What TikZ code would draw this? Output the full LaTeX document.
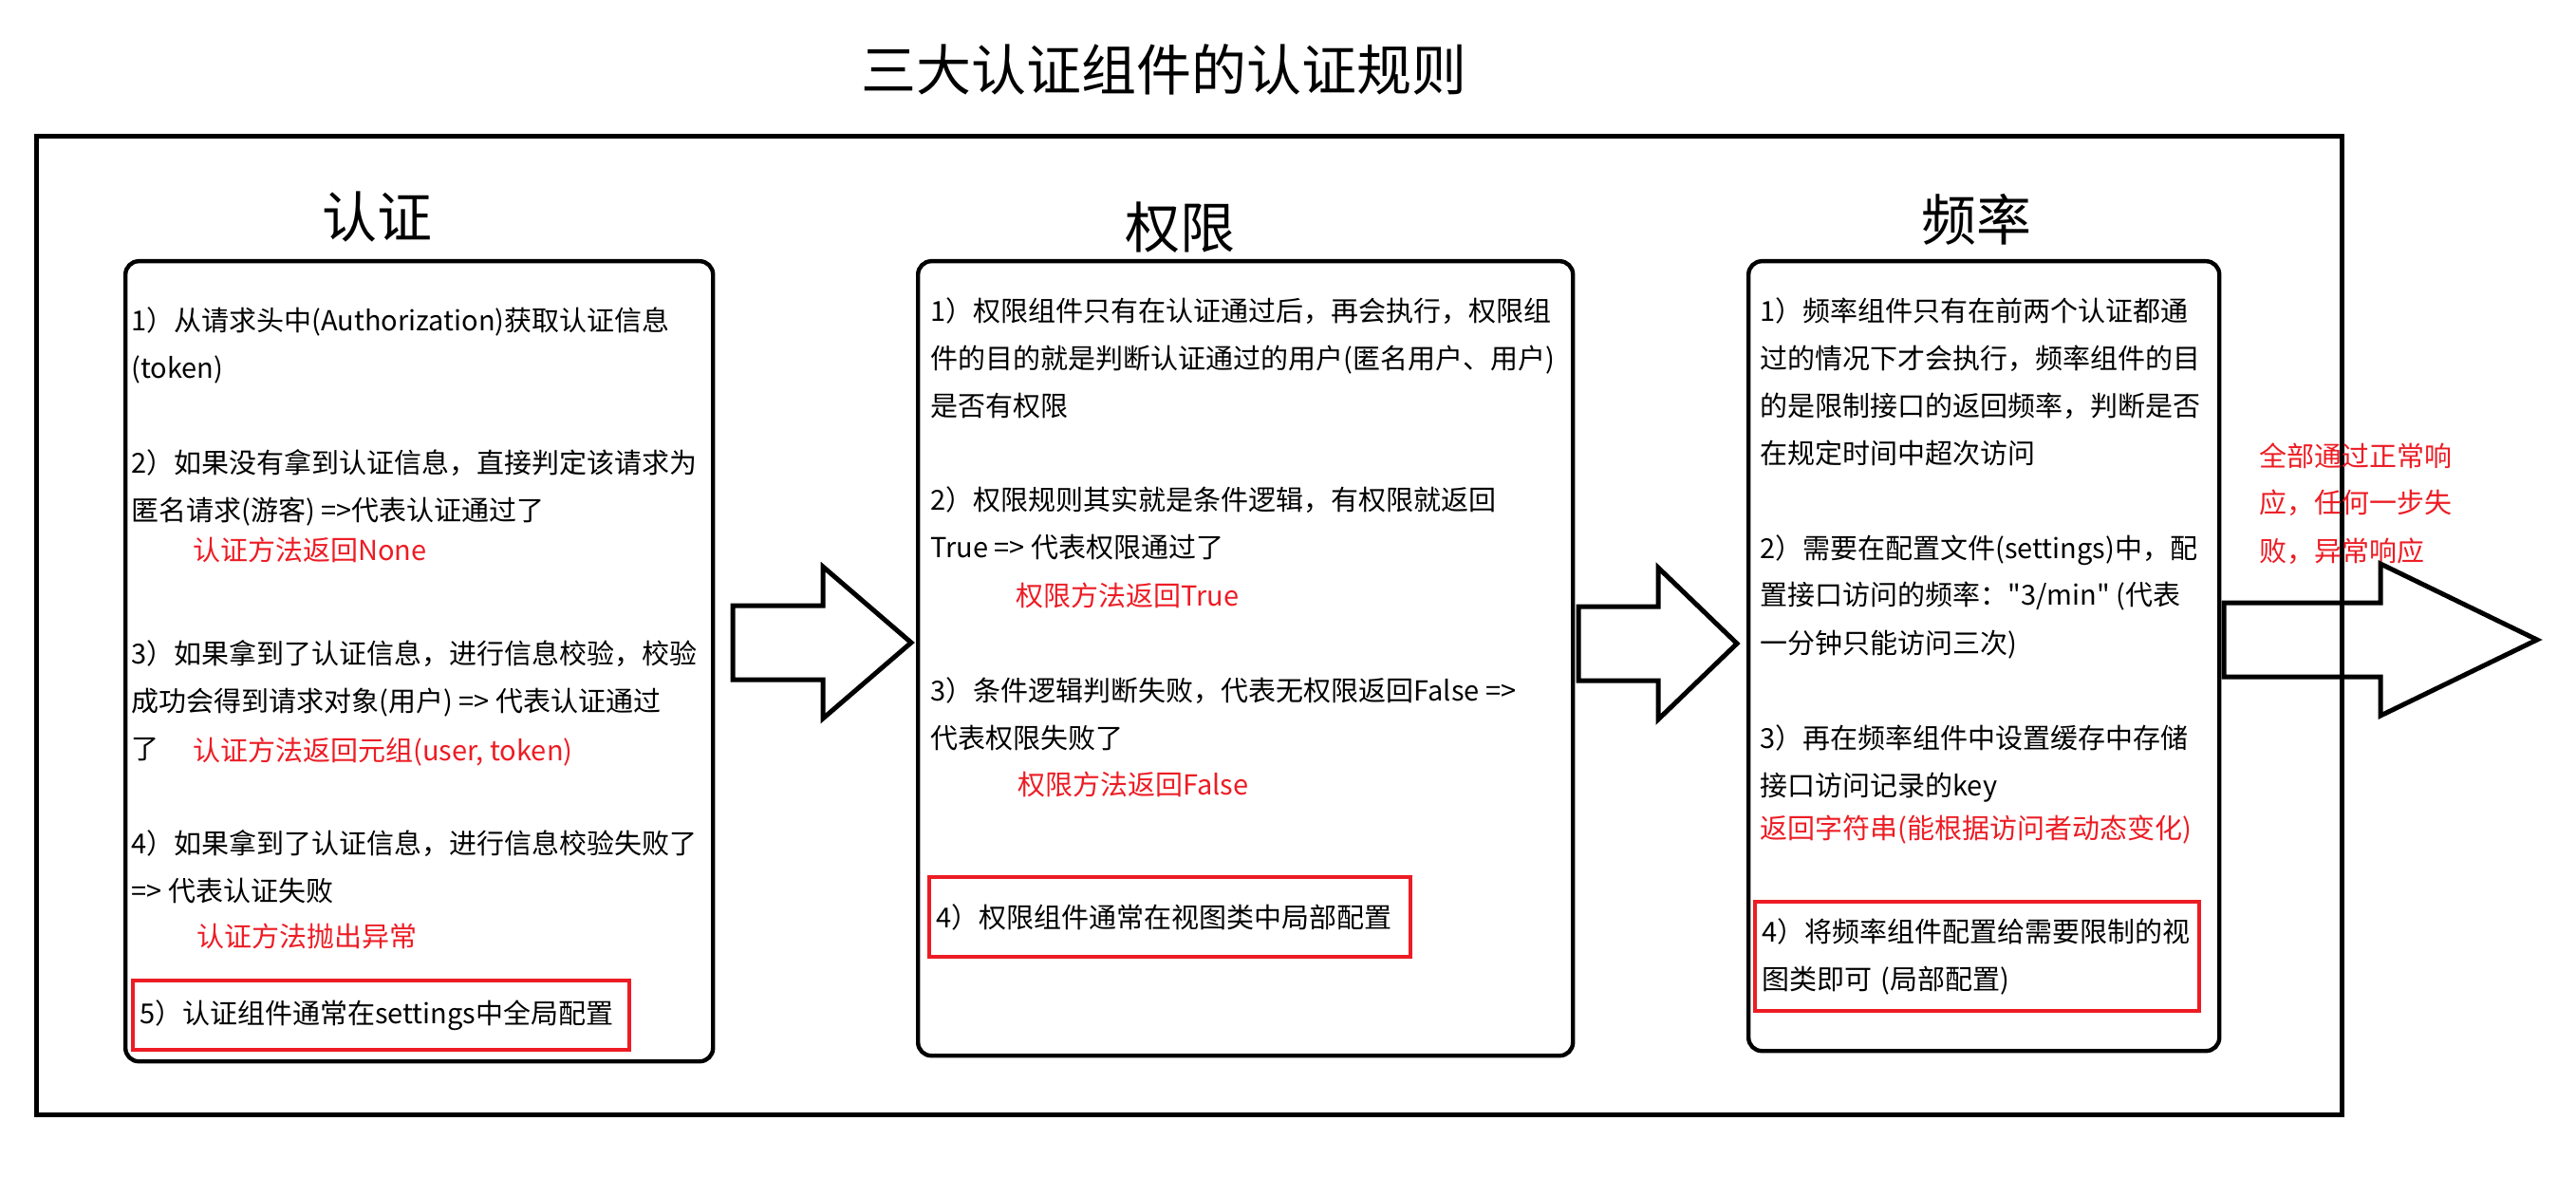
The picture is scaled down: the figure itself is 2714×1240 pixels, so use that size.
\documentclass[tikz,border=0pt]{standalone}
\usepackage{fontspec}
\setmainfont{Noto Sans CJK SC}[Ligatures=TeXOff]
\usepackage{xcolor}
\definecolor{noteRed}{RGB}{237,28,36}

\tikzset{
  panel/.style={draw, line width=2.2pt, rounded corners=7pt, anchor=north west, inner sep=0pt},
  % base west = baseline of the last line
  item/.style={anchor=base west, align=left, inner sep=0pt, font=\fontsize{14.5pt}{25pt}\selectfont},
  note/.style={item, text=noteRed},
  keybox/.style={item, draw=noteRed, line width=2pt, anchor=north west, inner xsep=3.5pt, inner ysep=0pt},
  heading/.style={anchor=base, inner sep=0pt, font=\fontsize{29pt}{34pt}\selectfont},
  bigarrow/.style={line width=2.5pt, line join=miter}
}

\begin{document}
\begin{tikzpicture}[x=0.5pt, y=-0.5pt]
\useasboundingbox (0,0) rectangle (2714,1240);
\fill[white] (0,0) rectangle (2714,1240);

% === 标题与外框 ===
\node[heading] (title) at (1226,96) {三大认证组件的认证规则};
\draw[line width=2.5pt] (38,144) rectangle (2467,1174);

% === 三个面板 ===
\node[panel, minimum width=309.5pt, minimum height=421.5pt] (authBox) at (130,273) {};
\node[panel, minimum width=345pt, minimum height=418.5pt] (permBox) at (965,273) {};
\node[panel, minimum width=248pt, minimum height=416pt] (rateBox) at (1840,273) {};

\node[heading] (authHead) at (397,251) {认证};
\node[heading] (permHead) at (1243,262) {权限};
\node[heading] (rateHead) at (2082,254) {频率};

% === 认证 ===
\node[item] (a1) at (138,399) {1）从请求头中(Authorization)获取认证信息\\(token)};
\node[item] (a2) at (138,549) {2）如果没有拿到认证信息，直接判定该请求为\\匿名请求(游客) =>代表认证通过了};
\node[note] (a2r) at (203,590) {认证方法返回None};
\node[item] (a3) at (138,799) {3）如果拿到了认证信息，进行信息校验，校验\\成功会得到请求对象(用户) => 代表认证通过\\了};
\node[note] (a3r) at (203,801) {认证方法返回元组(user, token)};
\node[item] (a4) at (138,949) {4）如果拿到了认证信息，进行信息校验失败了\\=> 代表认证失败};
\node[note] (a4r) at (207,997) {认证方法抛出异常};
\node[keybox, text width=254.5pt, minimum height=36.5pt] (a5) at (138,1031) {5）认证组件通常在settings中全局配置};

% === 权限 ===
\node[item] (b1) at (980,439) {1）权限组件只有在认证通过后，再会执行，权限组\\件的目的就是判断认证通过的用户(匿名用户、用户)\\是否有权限};
\node[item] (b2) at (980,588) {2）权限规则其实就是条件逻辑，有权限就返回\\True => 代表权限通过了};
\node[note] (b2r) at (1070,639) {权限方法返回True};
\node[item] (b3) at (980,788) {3）条件逻辑判断失败，代表无权限返回False =>\\代表权限失败了};
\node[note] (b3r) at (1072,837) {权限方法返回False};
\node[keybox, text width=246.5pt, minimum height=42pt] (b4) at (977,922) {4）权限组件通常在视图类中局部配置};

% === 频率 ===
\node[item] (c1) at (1854,489) {1）频率组件只有在前两个认证都通\\过的情况下才会执行，频率组件的目\\的是限制接口的返回频率，判断是否\\在规定时间中超次访问};
\node[item] (c2) at (1854,688) {2）需要在配置文件(settings)中，配\\置接口访问的频率："3/min" (代表\\一分钟只能访问三次)};
\node[item] (c3) at (1854,838) {3）再在频率组件中设置缓存中存储\\接口访问记录的key};
\node[note] (c3r) at (1854,883) {返回字符串(能根据访问者动态变化)};
\node[keybox, text width=227pt, minimum height=57.5pt] (c4) at (1847,948) {4）将频率组件配置给需要限制的视\\图类即可 (局部配置)};

\node[note] (result) at (2380,591) {全部通过正常响\\应，任何一步失\\败，异常响应};

% === 流程箭头 ===
\foreach \tl/\hb/\tp/\c in {772/867/960/677, 1663/1747/1830/678, 2343/2508/2673/674}
  \draw[bigarrow] (\tl,\c-39) -- (\hb,\c-39) -- (\hb,\c-80) -- (\tp,\c)
    -- (\hb,\c+80) -- (\hb,\c+39) -- (\tl,\c+39) -- cycle;

\end{tikzpicture}
\end{document}
